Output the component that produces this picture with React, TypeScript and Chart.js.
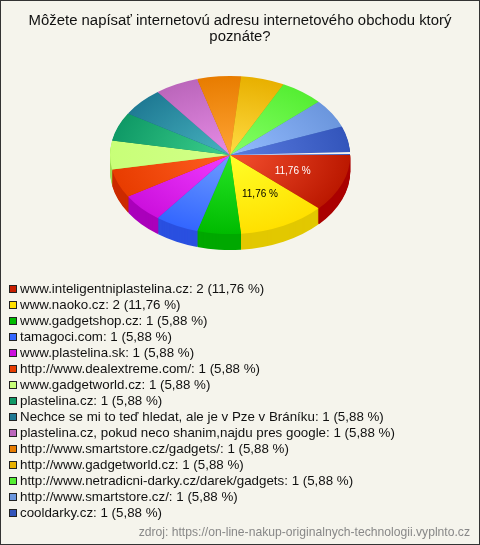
import React, { useEffect, useRef } from "react";
import { Chart, registerables } from "chart.js";

Chart.register(...registerables);

const sites = [
  "www.inteligentniplastelina.cz",
  "www.naoko.cz",
  "www.gadgetshop.cz",
  "tamagoci.com",
  "www.plastelina.sk",
  "http://www.dealextreme.com/",
  "www.gadgetworld.cz",
  "plastelina.cz",
  "Nechce se mi to teď hledat, ale je v Pze v Bráníku",
  "plastelina.cz, pokud neco shanim,najdu pres google",
  "http://www.smartstore.cz/gadgets/",
  "http://www.gadgetworld.cz",
  "http://www.netradicni-darky.cz/darek/gadgets",
  "http://www.smartstore.cz/",
  "cooldarky.cz",
];
const counts = [2, 2, 1, 1, 1, 1, 1, 1, 1, 1, 1, 1, 1, 1, 1];
const percents = ["11,76", "11,76", "5,88", "5,88", "5,88", "5,88", "5,88", "5,88", "5,88", "5,88", "5,88", "5,88", "5,88", "5,88", "5,88"];
const inner = ["#f5502f", "#ffff28", "#26e526", "#6f9dff", "#f03cff", "#ff5f22", "#d2ff88", "#3cd08c", "#48b4c0", "#e68ce6", "#ffa434", "#ffdc44", "#86ff66", "#94bcff", "#5a7ce0"];
const outer = ["#bb1800", "#ffe000", "#00bb00", "#3366ff", "#cc10dd", "#e83c00", "#c8ff78", "#0f9966", "#1f7a94", "#bb66bb", "#e87c00", "#e8b000", "#55ee33", "#6b96dd", "#3355bb"];
const side = ["#aa0000", "#e2c800", "#00a800", "#2a50e0", "#aa00bb", "#cc2a00", "#9fdb55", "#0a7a50", "#15607a", "#995099", "#c06600", "#c09000", "#40c020", "#5078c0", "#284498"];

const legendLabels = sites.map((s, i) => `${s}: ${counts[i]} (${percents[i]} %)`);

const CX = 230;
const CY = 155;
const RX = 120;
const RY = 79;
const DEPTH = 16;

const place = (chart: any, ctx: CanvasRenderingContext2D, down: number) => {
  const arc = chart.getDatasetMeta(0).data[0];
  const R = arc.outerRadius;
  ctx.translate(CX, CY + down);
  ctx.scale(RX / R, RY / R);
  ctx.translate(-arc.x, -arc.y);
};

const pie3d = {
  id: "pie3d",
  beforeDatasetsDraw(chart: any) {
    const ctx = chart.ctx;
    const arcs = chart.getDatasetMeta(0).data;
    for (let d = DEPTH; d >= 1; d--) {
      ctx.save();
      place(chart, ctx, d);
      arcs.forEach((a: any, i: number) => {
        const o = a.options;
        const saved = [o.backgroundColor, o.borderColor];
        o.backgroundColor = side[i];
        o.borderColor = side[i];
        a.draw(ctx);
        o.backgroundColor = saved[0];
        o.borderColor = saved[1];
      });
      ctx.restore();
    }
    ctx.save();
    place(chart, ctx, 0);
  },
  afterDatasetsDraw(chart: any) {
    const ctx = chart.ctx;
    ctx.restore();
    const arcs = chart.getDatasetMeta(0).data;
    const total = counts.reduce((a, b) => a + b, 0);
    ctx.save();
    // pale seam where the first slice is pulled out of the pie
    ctx.fillStyle = "#f4f4f0";
    ctx.beginPath();
    ctx.moveTo(CX + 1, CY);
    ctx.lineTo(CX + RX + 1, CY - 1);
    ctx.lineTo(CX + RX + 1, CY - 3);
    ctx.closePath();
    ctx.fill();
    ctx.font = "10px 'Liberation Sans'";
    ctx.textAlign = "center";
    ctx.textBaseline = "middle";
    arcs.forEach((a: any, i: number) => {
      if (counts[i] / total < 0.1) return;
      const mid = (a.startAngle + a.endAngle) / 2;
      const r = 0.56;
      ctx.fillStyle = i === 0 ? "#ffffff" : "#000000";
      ctx.fillText(`${percents[i]} %`, CX + Math.cos(mid) * r * RX, CY + Math.sin(mid) * r * RY);
    });
    ctx.restore();
  },
};

const sideLegend = {
  id: "sideLegend",
  afterDraw(chart: any) {
    const ctx = chart.ctx;
    ctx.save();
    ctx.font = "13.33px 'Liberation Sans'";
    ctx.textBaseline = "middle";
    legendLabels.forEach((t, i) => {
      const y = 289 + i * 16;
      ctx.fillStyle = i === 0 ? "#c81e00" : outer[i];
      ctx.fillRect(9.5, y - 3.5, 7, 7);
      ctx.strokeStyle = "#222222";
      ctx.lineWidth = 1;
      ctx.strokeRect(9.5, y - 3.5, 7, 7);
      ctx.fillStyle = "#111111";
      ctx.fillText(t, 20, y + 0.5);
    });
    ctx.restore();
  },
};

export default function App() {
  const ref = useRef<HTMLCanvasElement>(null);
  useEffect(() => {
    document.body.style.margin = "0";
    const chart = new Chart(ref.current!, {
      type: "pie",
      data: {
        labels: sites,
        datasets: [
          {
            data: counts,
            borderWidth: 0,
            offset: counts.map((_, i) => (i === 0 ? 2 : 0)),
            backgroundColor: (c: any) => {
              const i = c.dataIndex;
              const a = c.chart.getDatasetMeta(0).data[0];
              if (!a || !a.outerRadius) return outer[i];
              const g = c.chart.ctx.createRadialGradient(a.x, a.y, 0, a.x, a.y, a.outerRadius);
              g.addColorStop(0, inner[i]);
              g.addColorStop(1, outer[i]);
              return g;
            },
          },
        ],
      },
      options: {
        animation: false,
        responsive: false,
        rotation: 90,
        layout: { padding: { left: 10, right: 10 } },
        plugins: {
          legend: { display: false },
          tooltip: { enabled: false },
          title: {
            display: true,
            text: ["Môžete napísať internetovú adresu internetového obchodu ktorý", "poznáte?"],
            color: "#111111",
            font: { family: "'Liberation Sans'", size: 14.9, weight: "normal", lineHeight: 1.05 },
            padding: { top: 13, bottom: 10 },
          },
          subtitle: {
            display: true,
            position: "bottom",
            align: "end",
            text: "zdroj: https://on-line-nakup-originalnych-technologii.vyplnto.cz",
            color: "#888888",
            font: { family: "'Liberation Sans'", size: 12.15, weight: "normal" },
            padding: { top: 0, bottom: 5 },
          },
        },
      },
      plugins: [pie3d, sideLegend],
    });
    chart.update();
    return () => chart.destroy();
  }, []);
  return (
    <div style={{ width: 480, height: 545, background: "#f5f4ec", position: "relative" }}>
      <canvas ref={ref} width={480} height={545} style={{ display: "block" }} />
      <div style={{ position: "absolute", inset: 0, border: "1px solid #333", pointerEvents: "none" }} />
    </div>
  );
}
